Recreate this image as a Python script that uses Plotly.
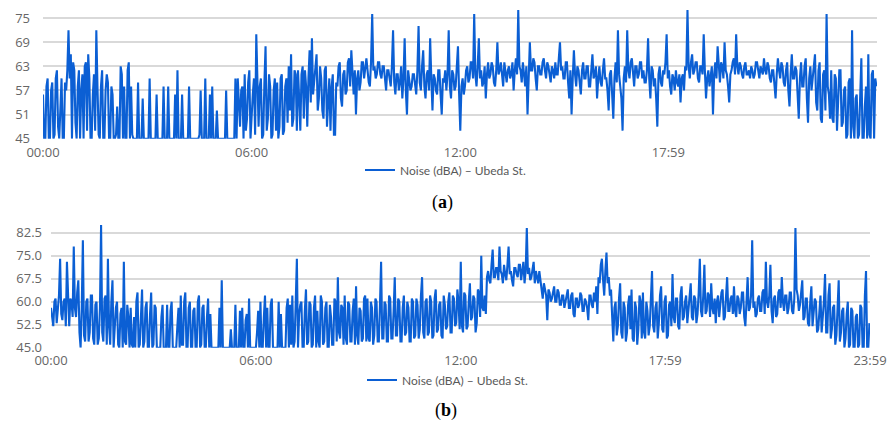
import plotly.graph_objects as go

# ---- data ----
tick_labels = ["00:00", "06:00", "12:00", "17:59", "23:59"]
tick_minutes = [0, 360, 720, 1079, 1439]
y_ticks_a = [45, 51, 57, 63, 69, 75]
y_ticks_b = [45.0, 52.5, 60.0, 67.5, 75.0, 82.5]
series_name = "Noise (dBA) – Ubeda St."
sample_step_min = 2

noise_a = [
    56,45,45,58,60,45,45,57,59,45,46,60,62,48,45,55,60,45,45,59,57,62,72,60,66,45,64,62,49,45,58,62,45,57,61,45,63,64,47,66,
    60,45,45,56,61,47,72,58,46,45,58,62,45,45,57,61,59,45,45,58,56,45,45,46,53,45,45,63,61,45,58,45,45,62,64,45,58,46,45,45,
    45,45,59,45,45,45,55,45,45,45,45,45,60,45,45,45,45,45,56,45,45,45,45,45,58,45,45,45,58,45,45,45,45,45,56,45,62,45,45,45,
    56,45,45,45,45,45,58,45,45,45,45,45,45,45,45,46,57,45,45,45,60,45,45,45,56,45,58,45,45,45,52,45,45,45,45,45,45,45,57,45,
    45,45,45,45,45,45,60,45,60,52,48,57,58,45,61,47,50,59,62,45,52,56,60,46,71,55,48,58,60,45,46,59,68,47,50,61,58,45,46,57,
    60,47,59,45,48,60,61,46,47,58,60,49,63,52,66,48,50,62,61,47,62,55,47,61,63,50,62,58,48,60,67,54,70,56,60,64,66,52,55,63,
    60,52,50,62,63,48,55,60,47,58,61,46,46,59,58,63,64,55,53,61,62,56,57,64,65,58,67,60,56,62,51,60,62,57,59,64,64,60,63,65,
    62,59,58,64,76,62,63,60,61,64,64,61,60,63,63,59,57,62,62,60,58,63,72,59,56,61,61,57,59,63,55,60,70,57,51,62,60,57,58,61,
    61,58,56,62,73,59,57,63,67,58,55,61,62,57,70,60,52,61,60,57,56,62,62,56,51,60,59,62,57,61,72,58,55,62,61,57,58,63,68,56,
    47,58,60,56,58,62,63,59,60,64,64,60,76,61,58,63,70,60,62,58,59,63,55,61,64,60,61,64,63,59,58,62,69,61,62,64,60,58,64,61,
    59,62,63,60,61,64,57,62,65,61,77,63,62,59,64,61,58,63,51,60,69,62,62,65,64,60,57,63,63,61,61,64,65,62,60,64,63,61,59,63,
    62,60,64,61,61,65,69,62,63,60,60,64,64,59,55,62,51,60,67,61,58,63,62,59,56,62,64,60,60,63,63,58,58,62,66,60,61,63,55,60,
    63,59,58,62,65,60,60,57,52,61,62,56,50,60,64,59,72,61,58,55,47,60,63,59,72,62,60,64,65,61,58,63,63,60,61,64,64,60,62,59,
    59,62,70,60,55,63,62,58,60,55,48,61,63,59,58,62,61,64,71,60,62,58,56,61,60,57,62,59,58,61,54,60,61,57,63,62,77,63,60,64,
    66,61,62,64,64,60,59,63,63,61,71,62,55,60,62,58,60,63,51,61,64,60,68,62,59,64,63,60,69,62,61,58,54,61,62,64,65,61,71,63,
    61,64,63,61,60,63,64,61,61,62,60,63,62,60,61,64,64,62,60,63,62,61,65,62,61,64,63,60,59,62,62,59,55,61,65,62,60,64,63,59,
    58,62,64,57,53,61,66,60,60,63,62,56,50,60,64,58,58,63,65,55,49,60,63,57,60,64,66,54,52,62,64,50,49,61,62,52,76,58,56,50,
    62,50,49,61,60,47,53,62,62,48,49,57,58,45,46,59,60,45,72,48,45,55,56,45,46,60,65,45,45,53,58,45,66,46,45,61,62,45,60,58,
]

noise_b = [
    58,55,52,60,61,53,57,62,74,56,54,60,61,52,73,58,52,61,60,55,78,58,55,63,67,50,45,58,80,49,47,60,61,47,50,62,62,48,46,59,
    60,46,48,58,85,50,47,61,62,46,74,52,46,60,67,45,52,58,60,46,45,56,58,45,73,47,46,59,55,45,58,46,45,55,45,60,63,45,46,57,
    64,45,47,58,60,45,45,56,63,45,46,59,58,45,45,45,45,55,59,45,45,45,59,45,45,57,60,45,45,45,45,52,58,45,62,46,46,60,63,45,
    45,58,60,45,45,57,58,45,45,60,62,45,46,58,59,45,45,55,61,45,56,45,45,45,45,45,45,45,58,45,67,45,45,45,45,45,45,45,51,45,
    45,45,59,45,45,45,57,45,58,45,45,54,56,45,61,45,45,45,45,45,45,50,57,45,60,45,45,55,62,45,58,45,45,59,61,45,45,45,45,45,
    60,45,56,45,45,45,45,58,61,45,59,46,62,45,47,60,74,45,56,59,60,45,45,57,64,46,47,60,59,45,46,58,62,45,57,47,45,62,60,46,
    47,58,60,45,45,59,55,46,46,61,60,47,68,50,48,59,58,46,62,48,46,60,59,47,47,57,61,46,65,49,46,58,57,47,48,61,62,47,61,48,
    47,60,58,46,49,61,60,47,47,59,73,48,48,60,59,47,47,62,61,48,48,57,68,49,49,61,60,47,47,58,62,49,50,60,58,47,47,61,60,48,
    49,61,59,48,51,62,68,50,48,60,61,49,50,62,60,48,49,61,64,50,51,59,60,49,48,62,59,51,52,60,63,50,50,62,61,52,53,64,60,51,
    73,52,50,63,62,51,52,60,66,54,55,62,61,50,53,64,63,55,75,58,57,62,56,68,70,67,66,72,77,68,68,71,71,67,78,70,69,66,72,69,
    67,72,78,69,70,67,65,71,71,69,68,72,72,67,70,73,66,70,84,69,71,67,68,71,73,66,70,68,66,70,67,63,61,66,64,62,54,64,63,60,
    61,63,65,60,60,64,63,59,59,62,62,58,60,63,64,58,58,62,63,56,55,61,61,58,59,63,62,57,57,61,60,58,54,62,62,59,58,63,60,65,
    56,68,66,72,74,67,62,70,76,66,68,62,64,55,47,58,60,49,52,61,66,50,48,60,58,47,50,59,62,51,64,48,47,60,58,46,51,62,60,48,
    63,50,48,60,57,49,52,61,70,52,50,58,60,48,53,62,65,51,50,60,62,48,49,59,60,52,69,55,53,61,61,52,51,62,65,54,55,60,62,53,
    57,61,66,55,54,62,61,53,56,63,74,57,55,62,72,56,57,63,62,55,66,58,56,61,53,60,62,55,58,63,64,54,55,62,68,57,57,61,62,56,
    65,57,55,62,61,56,58,63,63,55,52,60,68,57,58,62,80,58,60,55,56,61,62,57,57,63,64,56,73,60,58,62,72,57,53,61,62,55,56,63,
    64,58,68,60,57,62,62,56,58,63,63,57,56,61,84,64,62,57,59,63,67,54,55,61,61,53,52,60,65,52,56,61,60,50,51,59,62,50,54,60,
    69,50,50,62,66,48,51,58,59,46,49,60,67,47,50,57,58,45,48,56,60,45,46,58,57,45,45,55,56,45,46,59,58,45,45,62,70,45,45,53,
]

minutes_a = [i * sample_step_min for i in range(len(noise_a))]
minutes_b = [i * sample_step_min for i in range(len(noise_b))]

# ---- style ----
W, H = 892, 421
LINE = "#0b5fd4"
GRID = "#d9d9d9"
TXT = "#666666"
TICKFONT = dict(family="Open Sans", size=13, color=TXT)


def px_x(p):
    return p / W


def px_y(p):
    return (H - p) / H


fig = go.Figure()
fig.add_trace(go.Scatter(x=minutes_a, y=noise_a, mode="lines", name=series_name,
                         line=dict(color=LINE, width=2.1), xaxis="x", yaxis="y",
                         legend="legend"))
fig.add_trace(go.Scatter(x=minutes_b, y=noise_b, mode="lines", name=series_name,
                         line=dict(color=LINE, width=2.1), xaxis="x2", yaxis="y2",
                         legend="legend2"))

ya_bottom, ya_top = 138.7, 138.7 - 32 * 4.02
yb_bottom, yb_top = 347.7, 347.7 - 41 * 3.067

common_x = dict(range=[0, 1439], tickvals=tick_minutes, ticktext=tick_labels,
                showgrid=False, zeroline=False, showline=False, ticks="",
                tickfont=TICKFONT, automargin=False)
common_y = dict(showgrid=True, gridcolor=GRID, gridwidth=1.5, zeroline=False,
                showline=False, ticks="", tickfont=TICKFONT, automargin=False)

fig.update_layout(
    width=W, height=H,
    margin=dict(l=0, r=0, t=0, b=0),
    paper_bgcolor="white", plot_bgcolor="white",
    showlegend=True,
    xaxis=dict(domain=[px_x(43), px_x(877)], anchor="y", ticklabelstandoff=4, **common_x),
    yaxis=dict(domain=[px_y(ya_bottom), px_y(ya_top)], range=[45, 77], anchor="x",
               tickvals=y_ticks_a, ticktext=[str(v) for v in y_ticks_a],
               ticklabelstandoff=12, **common_y),
    xaxis2=dict(domain=[px_x(51), px_x(870)], anchor="y2", ticklabelstandoff=3, **common_x),
    yaxis2=dict(domain=[px_y(yb_bottom), px_y(yb_top)], range=[45, 86], anchor="x2",
                tickvals=y_ticks_b, ticktext=[f"{v:.1f}" for v in y_ticks_b],
                ticklabelstandoff=8, **common_y),
    legend=dict(x=px_x(360), y=px_y(170), xanchor="left", yanchor="middle",
                orientation="h", bgcolor="rgba(0,0,0,0)",
                font=dict(family="Lato", size=12, color="#595959")),
    legend2=dict(x=px_x(362), y=px_y(380), xanchor="left", yanchor="middle",
                 orientation="h", bgcolor="rgba(0,0,0,0)", tracegroupgap=0,
                 font=dict(family="Lato", size=12, color="#595959")),
    annotations=[
        dict(text="(<b>a</b>)", x=px_x(442), y=px_y(202), xref="paper", yref="paper",
             showarrow=False, xanchor="center", yanchor="middle",
             font=dict(family="Liberation Serif", size=18, color="black")),
        dict(text="(<b>b</b>)", x=px_x(446), y=px_y(410), xref="paper", yref="paper",
             showarrow=False, xanchor="center", yanchor="middle",
             font=dict(family="Liberation Serif", size=18, color="black")),
    ],
)

fig.write_html("out.html")
